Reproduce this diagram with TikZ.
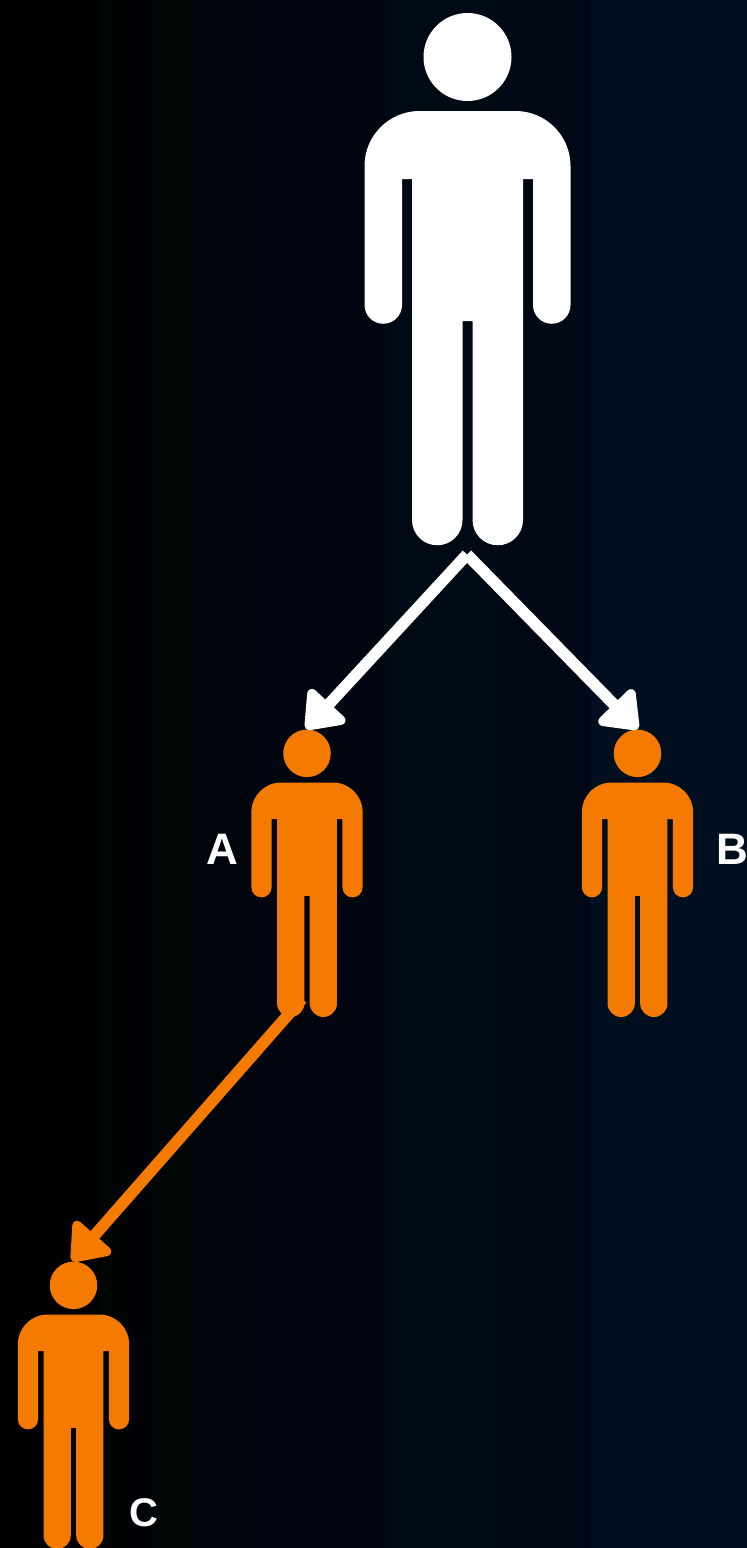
\documentclass[tikz,border=0pt]{standalone}
\usepackage{fontspec}
\setmainfont{Liberation Sans}
\usetikzlibrary{arrows.meta}
\definecolor{orangefig}{RGB}{245,123,0}
\tikzset{
  x=1pt,y=-1pt,
  figure/.pic={
    \fill (0,-54) circle[radius=44];
    \fill (-103,55) arc[start angle=180,end angle=270,radius=55]
      -- (48,0) arc[start angle=270,end angle=360,radius=55]
      -- (103,194) arc[start angle=0,end angle=180,radius=18.75]
      -- (65.5,68) -- (55.5,68)
      -- (55.5,409) arc[start angle=0,end angle=180,radius=25.25]
      -- (5,210) -- (-5,210)
      -- (-5,409) arc[start angle=0,end angle=180,radius=25.25]
      -- (-55.5,68) -- (-65.5,68)
      -- (-65.5,194) arc[start angle=0,end angle=180,radius=18.75]
      -- cycle;
  },
  link/.style={line width=11.5pt,-{Triangle[round,length=38pt,width=56pt,line width=10pt]}},
  lab/.style={text=white,inner sep=0pt,anchor=center}
}
\newcommand{\bandc}[5]{\fill[fill={rgb,255:red,#3;green,#4;blue,#5}] (#1,0) rectangle (#2,1548);}
\begin{document}
\begin{tikzpicture}
\useasboundingbox (0,0) rectangle (747,1548);
\bandc{0}{100}{0}{0}{2}
\bandc{100}{130}{0}{5}{2}
\bandc{130}{150}{0}{2}{7}
\bandc{150}{195}{0}{5}{5}
\bandc{195}{250}{0}{4}{11}
\bandc{250}{385}{0}{5}{16}
\bandc{385}{500}{0}{10}{20}
\bandc{500}{585}{0}{8}{22}
\bandc{585}{590}{0}{6}{26}
\bandc{590}{747}{0}{15}{31}
\pic[white] at (467.5,111) {figure};
\pic[orangefig,scale=.54] at (307,782.5) {figure};
\pic[orangefig,scale=.54] at (637.5,782.5) {figure};
\pic[orangefig,scale=.54] at (73.5,1314.5) {figure};
\coordinate (topfoot) at (467,554.5);
\coordinate (headA) at (306,729);
\coordinate (headB) at (638,729);
\coordinate (footA) at (302,999);
\coordinate (headC) at (72,1261);
\draw[link,white] (topfoot) -- (headA);
\draw[link,white] (topfoot) -- (headB);
\draw[link,orangefig] (footA) -- (headC);
\node[lab,font=\bfseries\fontsize{44}{44}\selectfont] (la) at (222,849) {A};
\node[lab,font=\bfseries\fontsize{44}{44}\selectfont] (lb) at (732,849) {B};
\node[lab,font=\bfseries\fontsize{40}{40}\selectfont] (lc) at (144,1513) {C};
\end{tikzpicture}
\end{document}
